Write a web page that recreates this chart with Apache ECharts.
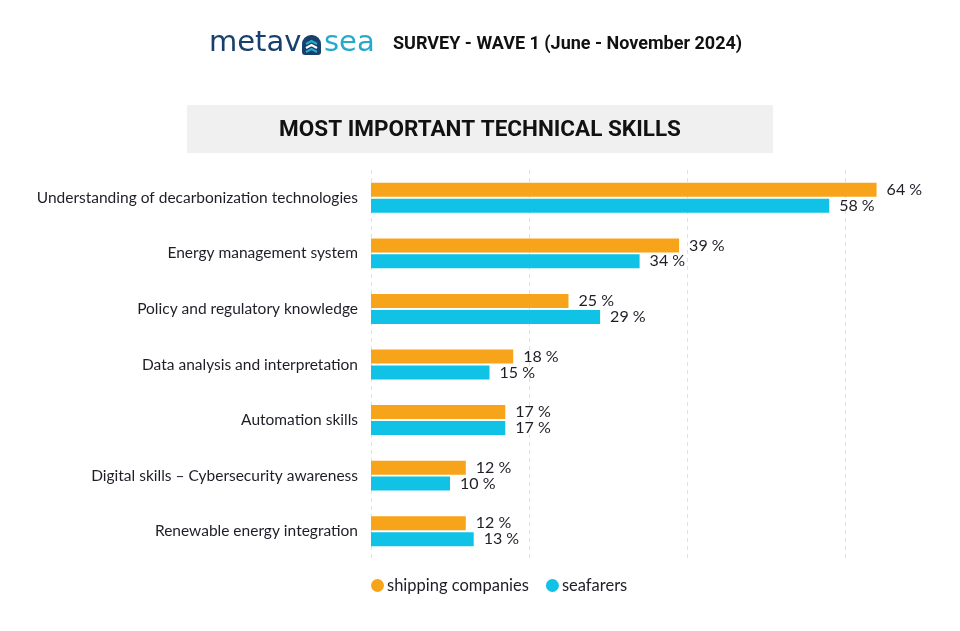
<!DOCTYPE html>
<html>
<head>
<meta charset="utf-8">
<script src="https://cdn.jsdelivr.net/npm/echarts@6/dist/echarts.min.js"></script>
<style>
  html, body { margin: 0; padding: 0; background: #fff; }
  #chart { width: 960px; height: 631px; }
</style>
</head>
<body>
<div id="chart"></div>
<script>
// data
var CATEGORIES = [
  'Understanding of decarbonization technologies',
  'Energy management system',
  'Policy and regulatory knowledge',
  'Data analysis and interpretation',
  'Automation skills',
  'Digital skills \u2013 Cybersecurity awareness',
  'Renewable energy integration'
];
var SHIPPING = [64, 39, 25, 18, 17, 12, 12];
var SEAFARERS = [58, 34, 29, 15, 17, 10, 13];
var SERIES_NAMES = ['shipping companies', 'seafarers'];
var X_TICKS = [0, 20, 40, 60, 80];

var ORANGE = '#F8A41B';
var CYAN = '#0FC2E6';
var NAVY = '#17406C';
var TEAL = '#26A9CB';

var myChart = echarts.init(document.getElementById('chart'));

// value label shown right of each bar
var barLabel = {
  show: true,
  position: 'right',
  distance: 10,
  formatter: '{c} %',
  fontFamily: 'Lato',
  fontSize: 16,
  color: '#1e1e28'
};

var option = {
  animation: false,
  textStyle: { fontFamily: 'Lato' },
  color: [ORANGE, CYAN],
  // the 80 line falls past the right edge of the picture
  grid: {
    left: 371,
    top: 170,
    height: 389,
    width: 632,
    outerBoundsMode: 'none'
  },
  xAxis: {
    type: 'value',
    min: X_TICKS[0],
    max: X_TICKS[X_TICKS.length - 1],
    interval: 20,
    axisLine: { show: false },
    axisTick: { show: false },
    axisLabel: { show: false },
    splitLine: {
      show: true,
      lineStyle: { color: '#e0e0e0', type: [4, 4], width: 1 }
    }
  },
  yAxis: {
    type: 'category',
    inverse: true,
    data: CATEGORIES,
    axisLine: { show: false },
    axisTick: { show: false },
    axisLabel: {
      margin: 13,
      fontFamily: 'Lato',
      fontSize: 15.5,
      color: '#1e1e28'
    }
  },
  legend: {
    left: 366,
    top: 572,
    icon: 'circle',
    itemWidth: 13,
    itemHeight: 13,
    itemGap: 17,
    textStyle: { fontFamily: 'Lato', fontSize: 16.5, color: '#1e1e28', padding: [0, 0, 0, -2] },
    data: SERIES_NAMES
  },
  series: [
    {
      name: SERIES_NAMES[0],
      type: 'bar',
      data: SHIPPING,
      barWidth: 14,
      barGap: '14%',
      label: barLabel
    },
    {
      name: SERIES_NAMES[1],
      type: 'bar',
      data: SEAFARERS,
      barWidth: 14,
      barGap: '14%',
      label: barLabel
    }
  ],
  graphic: [
    // logo: "metav" + wave badge + "sea"
    {
      type: 'text',
      left: 209,
      top: 29,
      style: { text: 'metav', fontFamily: 'DejaVu Sans', fontSize: 29, fill: NAVY }
    },
    {
      type: 'group',
      left: 302,
      top: 35,
      children: [
        { type: 'rect', shape: { x: 0, y: 0, width: 19, height: 20, r: [9, 9, 3, 3] }, style: { fill: NAVY } },
        { type: 'polyline', shape: { points: [[4, 9], [9.5, 6], [15, 9]] }, style: { stroke: TEAL, lineWidth: 2, fill: null } },
        { type: 'polyline', shape: { points: [[4, 13], [9.5, 10], [15, 13]] }, style: { stroke: '#fff', lineWidth: 2, fill: null } },
        { type: 'polyline', shape: { points: [[4, 17], [9.5, 14], [15, 17]] }, style: { stroke: TEAL, lineWidth: 2, fill: null } }
      ]
    },
    {
      type: 'text',
      left: 324,
      top: 29,
      style: { text: 'sea', fontFamily: 'DejaVu Sans', fontSize: 29, fill: TEAL }
    },
    {
      type: 'text',
      left: 393,
      top: 35,
      style: {
        text: 'SURVEY - WAVE 1 (June - November 2024)',
        fontFamily: 'Roboto',
        fontWeight: 'bold',
        fontSize: 18,
        fill: '#111'
      }
    },
    // title box
    {
      type: 'rect',
      shape: { x: 187, y: 105, width: 586, height: 48 },
      style: { fill: '#f0f0f0' }
    },
    {
      type: 'text',
      x: 480,
      y: 130,
      style: {
        text: 'MOST IMPORTANT TECHNICAL SKILLS',
        fontFamily: 'Roboto',
        fontWeight: 'bold',
        fontSize: 22.5,
        fill: '#111',
        align: 'center',
        verticalAlign: 'middle'
      }
    }
  ]
};

myChart.setOption(option);
</script>
</body>
</html>
